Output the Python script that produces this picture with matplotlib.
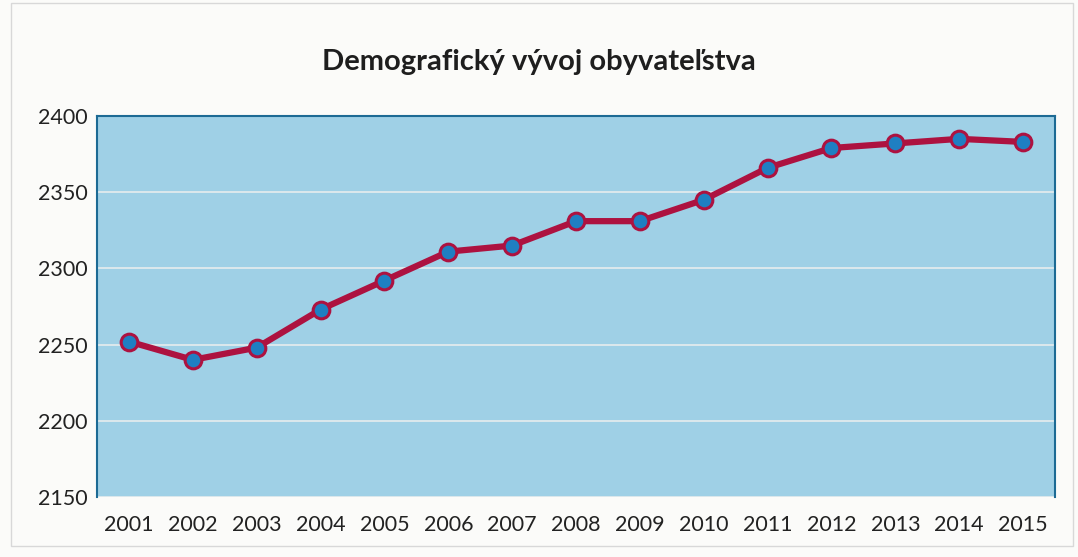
import matplotlib.pyplot as plt
from matplotlib.patches import Rectangle

years = ['2001', '2002', '2003', '2004', '2005', '2006', '2007', '2008',
         '2009', '2010', '2011', '2012', '2013', '2014', '2015']
population = [2252, 2240, 2248, 2273, 2292, 2311, 2315, 2331,
              2331, 2345, 2366, 2379, 2382, 2385, 2383]
yticks = [2150, 2200, 2250, 2300, 2350, 2400]

plt.rcParams['font.family'] = ['Lato', 'DejaVu Sans']

fig = plt.figure(figsize=(10.78, 5.57), dpi=100)
fig.patch.set_facecolor('#fbfbf9')
fig.patches.append(Rectangle((0.01, 0.02), 0.985, 0.975, transform=fig.transFigure,
                             fill=False, edgecolor='#d8d8d8', linewidth=1))

ax = fig.add_axes([97 / 1078, 1 - 497 / 557, (1055 - 97) / 1078, (497 - 116) / 557])
ax.set_facecolor('#9fd0e6')

x = list(range(len(years)))
ax.plot(x, population, color='#ad1240', linewidth=4.5, marker='o', markersize=12,
        markerfacecolor='#1f7fc2', markeredgecolor='#ad1240', markeredgewidth=2.2,
        zorder=3)

ax.set_xlim(-0.5, len(years) - 0.5)
ax.set_ylim(2150, 2400)
ax.set_yticks(yticks)
ax.set_xticks(x)
ax.set_xticklabels(years)
ax.tick_params(length=0, labelsize=15.5, colors='#222222')
ax.tick_params(axis='x', pad=13)
ax.tick_params(axis='y', pad=7)

ax.grid(axis='y', color='#e6ecee', linewidth=1.2, linestyle='-')
ax.set_axisbelow(True)

for side in ['left', 'top', 'right']:
    ax.spines[side].set_color('#1c6a94')
    ax.spines[side].set_linewidth(1.5)
ax.spines['bottom'].set_visible(False)

fig.text(0.5, 1 - 62 / 557, 'Demografický vývoj obyvateľstva', ha='center', va='center',
         fontsize=21, fontweight='bold', color='#1e1e1e')

fig.savefig('out.png', dpi=100, facecolor=fig.get_facecolor())
